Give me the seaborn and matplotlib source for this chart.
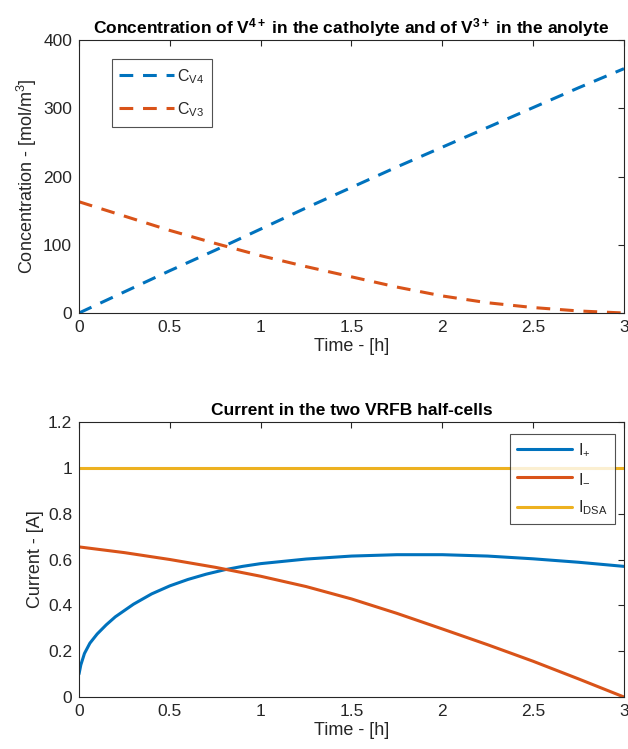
import numpy as np
import pandas as pd
import matplotlib
matplotlib.use("Agg")
import matplotlib.pyplot as plt
import seaborn as sns

# ---- data ----
t_conc = [0, 0.25, 0.5, 0.75, 1.0, 1.25, 1.5, 1.75, 2.0, 2.25, 2.5, 2.75, 3.0]
c_v4 = [0, 31, 62, 92, 123, 154, 184, 214, 243, 272, 301, 330, 358]
c_v3 = [163, 142, 121, 102, 84, 68, 53, 38, 25, 15, 8, 3, 0]

t_cur = [0, 0.01, 0.03, 0.06, 0.1, 0.15, 0.2, 0.3, 0.4, 0.5, 0.6, 0.7, 0.8, 0.9, 1.0,
         1.25, 1.5, 1.75, 2.0, 2.25, 2.5, 2.75, 3.0]
i_plus = [0.10, 0.14, 0.19, 0.235, 0.275, 0.315, 0.35, 0.405, 0.45, 0.485, 0.513, 0.536,
          0.555, 0.57, 0.582, 0.602, 0.615, 0.621, 0.621, 0.615, 0.603, 0.588, 0.57]
t_minus = [0, 0.25, 0.5, 0.75, 1.0, 1.25, 1.5, 1.75, 2.0, 2.25, 2.5, 2.75, 3.0]
i_minus = [0.655, 0.63, 0.60, 0.566, 0.527, 0.482, 0.428, 0.365, 0.297, 0.228, 0.156, 0.079, 0.0]
t_dsa = [0, 3]
i_dsa = [1.0, 1.0]

blue, orange, yellow = "#0072BD", "#D95319", "#EDB120"

sns.set_style("white")
plt.rcParams["font.family"] = ["Liberation Sans", "DejaVu Sans"]
plt.rcParams["mathtext.fontset"] = "custom"
plt.rcParams["mathtext.rm"] = "Liberation Sans"
plt.rcParams["mathtext.it"] = "Liberation Sans"
plt.rcParams["mathtext.bf"] = "Liberation Sans:bold"

fig = plt.figure(figsize=(6.28, 7.49), dpi=100)
ax1 = fig.add_axes([0.1258, 0.5821, 0.8678, 0.3645])
ax2 = fig.add_axes([0.1258, 0.0694, 0.8678, 0.3672])

df1 = pd.concat([
    pd.DataFrame({"t": t_conc, "v": c_v4, "s": r"C$_{\mathregular{V4}}$"}),
    pd.DataFrame({"t": t_conc, "v": c_v3, "s": r"C$_{\mathregular{V3}}$"}),
])
sns.lineplot(data=df1, x="t", y="v", hue="s", palette=[blue, orange], ax=ax1,
             linewidth=2.2, estimator=None, sort=False)
for ln in ax1.lines:
    ln.set_dashes((4.5, 3.2))

df2 = pd.concat([
    pd.DataFrame({"t": t_cur, "v": i_plus, "s": r"I$_{\mathregular{+}}$"}),
    pd.DataFrame({"t": t_minus, "v": i_minus, "s": r"I$_{\mathregular{-}}$"}),
    pd.DataFrame({"t": t_dsa, "v": i_dsa, "s": r"I$_{\mathregular{DSA}}$"}),
])
sns.lineplot(data=df2, x="t", y="v", hue="s", palette=[blue, orange, yellow], ax=ax2,
             linewidth=2.2, estimator=None, sort=False)

axc = "#262626"
for ax in (ax1, ax2):
    ax.set_xlim(0, 3)
    ax.set_xticks([0, 0.5, 1, 1.5, 2, 2.5, 3])
    ax.set_xticklabels(["0", "0.5", "1", "1.5", "2", "2.5", "3"])
    ax.tick_params(direction="in", top=True, right=True, length=4, width=0.8,
                   labelsize=12.5, colors=axc, labelcolor=axc, pad=5)
    for sp in ax.spines.values():
        sp.set_color(axc)
        sp.set_linewidth(0.8)
    ax.set_xlabel("Time - [h]", fontsize=13, color=axc, labelpad=2)

ax1.set_ylim(0, 400)
ax1.set_yticks([0, 100, 200, 300, 400])
ax1.set_ylabel(r"Concentration - [mol/m$^{\mathregular{3}}$]", fontsize=13, color=axc, labelpad=3)
ax1.set_title(r"Concentration of V$^{\mathbf{4+}}$ in the catholyte and of V$^{\mathbf{3+}}$ in the anolyte",
              fontsize=12.5, fontweight="bold", color="black", pad=5)

ax2.set_ylim(0, 1.2)
ax2.set_yticks([0, 0.2, 0.4, 0.6, 0.8, 1.0, 1.2])
ax2.set_yticklabels(["0", "0.2", "0.4", "0.6", "0.8", "1", "1.2"])
ax2.set_ylabel("Current - [A]", fontsize=13, color=axc, labelpad=3)
ax2.set_title("Current in the two VRFB half-cells", fontsize=12.5, fontweight="bold",
              color="black", pad=5)

leg1 = ax1.legend(loc="upper left", bbox_to_anchor=(0.045, 0.96), fontsize=11.5,
                  frameon=True, fancybox=False, edgecolor=axc, handlelength=3.4,
                  borderpad=0.5, labelspacing=0.9, handletextpad=0.2)
leg1.get_frame().set_linewidth(0.8)
for h in leg1.get_lines():
    h.set_dashes((4.5, 3.2))

leg2 = ax2.legend(loc="upper right", bbox_to_anchor=(0.998, 0.985), fontsize=11.5,
                  frameon=True, fancybox=False, edgecolor=axc, handlelength=3.4,
                  borderpad=0.45, labelspacing=0.8, handletextpad=0.4)
leg2.get_frame().set_linewidth(0.8)

fig.savefig("out.png", dpi=100)
